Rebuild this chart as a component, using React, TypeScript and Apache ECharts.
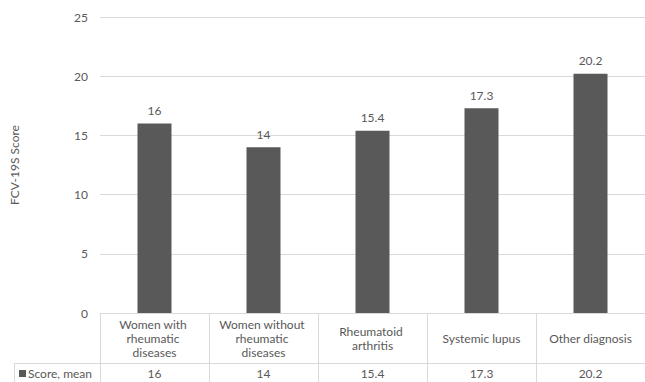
import React, { useEffect, useRef } from "react";
import * as echarts from "echarts";

const categories = [
  "Women with rheumatic diseases",
  "Women without rheumatic diseases",
  "Rheumatoid arthritis",
  "Systemic lupus",
  "Other diagnosis",
];
const seriesName = "Score, mean";
const scores = [16, 14, 15.4, 17.3, 20.2];
const yAxisName = "FCV-19S Score";

const FONT = "Lato, 'Open Sans', sans-serif";
const TEXT = "#595959";
const LINE = "#d9d9d9";
const BAR = "#595959";

export default function App() {
  const ref = useRef<HTMLDivElement>(null);
  useEffect(() => {
    if (!ref.current) return;
    const chart = echarts.init(ref.current, undefined, { renderer: "svg" });
    chart.setOption({
      animation: false,
      textStyle: { fontFamily: FONT },
      grid: { left: 100, right: 0, top: 17, bottom: 69, containLabel: false },
      xAxis: [
        {
          type: "category",
          data: categories,
          position: "bottom",
          axisLine: { show: true, lineStyle: { color: LINE, width: 1 } },
          axisTick: { show: true, length: 50, interval: 0, lineStyle: { color: LINE } },
          axisLabel: {
            interval: 0,
            color: TEXT,
            fontSize: 12,
            fontFamily: FONT,
            width: 96,
            overflow: "break",
            lineHeight: 14,
            verticalAlign: "middle",
            margin: 25,
          },
        },
        {
          type: "category",
          data: scores.map((v) => String(v)),
          position: "bottom",
          offset: 50,
          axisLine: { show: true, lineStyle: { color: LINE, width: 1 } },
          axisTick: { show: true, length: 19, interval: 0, lineStyle: { color: LINE } },
          axisLabel: {
            interval: 0,
            color: TEXT,
            fontSize: 12,
            fontFamily: FONT,
            verticalAlign: "middle",
            margin: 10,
          },
        },
      ],
      yAxis: {
        type: "value",
        min: 0,
        max: 25,
        interval: 5,
        name: yAxisName,
        nameLocation: "middle",
        nameGap: 80,
        nameTextStyle: { color: TEXT, fontSize: 12, fontFamily: FONT },
        axisLine: { show: false },
        axisTick: { show: false },
        axisLabel: { color: TEXT, fontSize: 12, fontFamily: FONT, margin: 12 },
        splitLine: { lineStyle: { color: LINE, width: 1 } },
      },
      series: [
        {
          type: "bar",
          name: seriesName,
          data: scores,
          xAxisIndex: 0,
          barWidth: 34,
          itemStyle: { color: BAR },
          label: {
            show: true,
            position: "top",
            distance: 7,
            color: TEXT,
            fontSize: 12,
            fontFamily: FONT,
          },
        },
      ],
      graphic: [
        { type: "line", shape: { x1: 14, y1: 363.5, x2: 100, y2: 363.5 }, style: { stroke: LINE, lineWidth: 1 } },
        { type: "line", shape: { x1: 14.5, y1: 363, x2: 14.5, y2: 382 }, style: { stroke: LINE, lineWidth: 1 } },
        { type: "rect", shape: { x: 19, y: 370, width: 7, height: 7 }, style: { fill: BAR } },
        {
          type: "text",
          x: 28,
          y: 373.5,
          style: { text: seriesName, fill: TEXT, fontSize: 12, fontFamily: FONT, verticalAlign: "middle", align: "left" },
        },
      ],
    });
    return () => chart.dispose();
  }, []);
  return <div ref={ref} style={{ width: 645, height: 382, position: "fixed", left: 0, top: 0, background: "#fff" }} />;
}
